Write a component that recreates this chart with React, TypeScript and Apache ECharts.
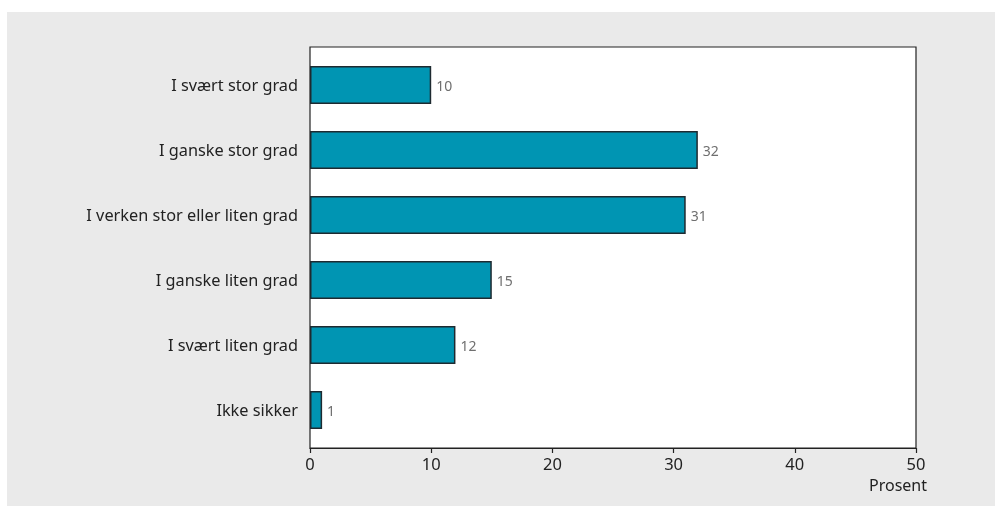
import React, { useEffect, useRef } from "react";
import * as echarts from "echarts";

const categories = [
  "I svært stor grad",
  "I ganske stor grad",
  "I verken stor eller liten grad",
  "I ganske liten grad",
  "I svært liten grad",
  "Ikke sikker",
];
const values = [10, 32, 31, 15, 12, 1];
const xTicks = [0, 10, 20, 30, 40, 50];
const xAxisName = "Prosent";

const FONT = "Noto Sans";

export default function App() {
  const ref = useRef<HTMLDivElement>(null);
  useEffect(() => {
    if (!ref.current) return;
    const chart = echarts.init(ref.current, undefined, { renderer: "svg" });
    chart.setOption({
      animation: false,
      graphic: [
        {
          type: "rect",
          z: -10,
          silent: true,
          shape: { x: 7, y: 12, width: 988, height: 494 },
          style: { fill: "#eaeaea" },
        },
      ],
      grid: [
        {
          left: 310,
          right: 79,
          top: 47,
          bottom: 58,
          show: true,
          backgroundColor: "#ffffff",
          borderColor: "#222222",
          borderWidth: 1.2,
        },
        {
          left: 310,
          right: 79,
          top: 52.5,
          bottom: 63.5,
        },
      ],
      xAxis: [
        {
          gridIndex: 0,
          type: "value",
          min: xTicks[0],
          max: xTicks[xTicks.length - 1],
          interval: 10,
          splitLine: { show: false },
          axisLine: { show: true, lineStyle: { color: "#222", width: 1.2 } },
          axisTick: { show: true, length: 5, lineStyle: { color: "#222", width: 1.2 } },
          axisLabel: { color: "#222", fontSize: 16.5, fontFamily: FONT, margin: 7 },
          name: xAxisName,
          nameLocation: "end",
          nameGap: 0,
          nameTextStyle: {
            color: "#222",
            fontSize: 16,
            fontFamily: FONT,
            align: "right",
            verticalAlign: "top",
            padding: [29, -11, 0, 0],
          },
        },
        {
          gridIndex: 1,
          type: "value",
          min: xTicks[0],
          max: xTicks[xTicks.length - 1],
          show: false,
          splitLine: { show: false },
        },
      ],
      yAxis: [
        {
          gridIndex: 1,
          type: "category",
          data: categories,
          inverse: true,
          axisLine: { show: false },
          axisTick: { show: false },
          splitLine: { show: false },
          axisLabel: { color: "#222", fontSize: 16.3, fontFamily: FONT, margin: 12 },
        },
        {
          gridIndex: 0,
          type: "value",
          show: false,
          min: 0,
          max: 1,
          splitLine: { show: false },
        },
      ],
      series: [
        {
          type: "bar",
          xAxisIndex: 1,
          yAxisIndex: 0,
          data: values,
          barWidth: 38,
          itemStyle: { color: "#0095b3", borderColor: "#1e2a30", borderWidth: 1.5 },
          label: {
            show: true,
            position: "right",
            distance: 5,
            color: "#6f6f6f",
            fontSize: 14,
            fontFamily: FONT,
          },
        },
      ],
    });
    return () => chart.dispose();
  }, []);
  return (
    <div
      ref={ref}
      style={{ position: "fixed", left: 0, top: 0, width: 995, height: 506 }}
    />
  );
}
